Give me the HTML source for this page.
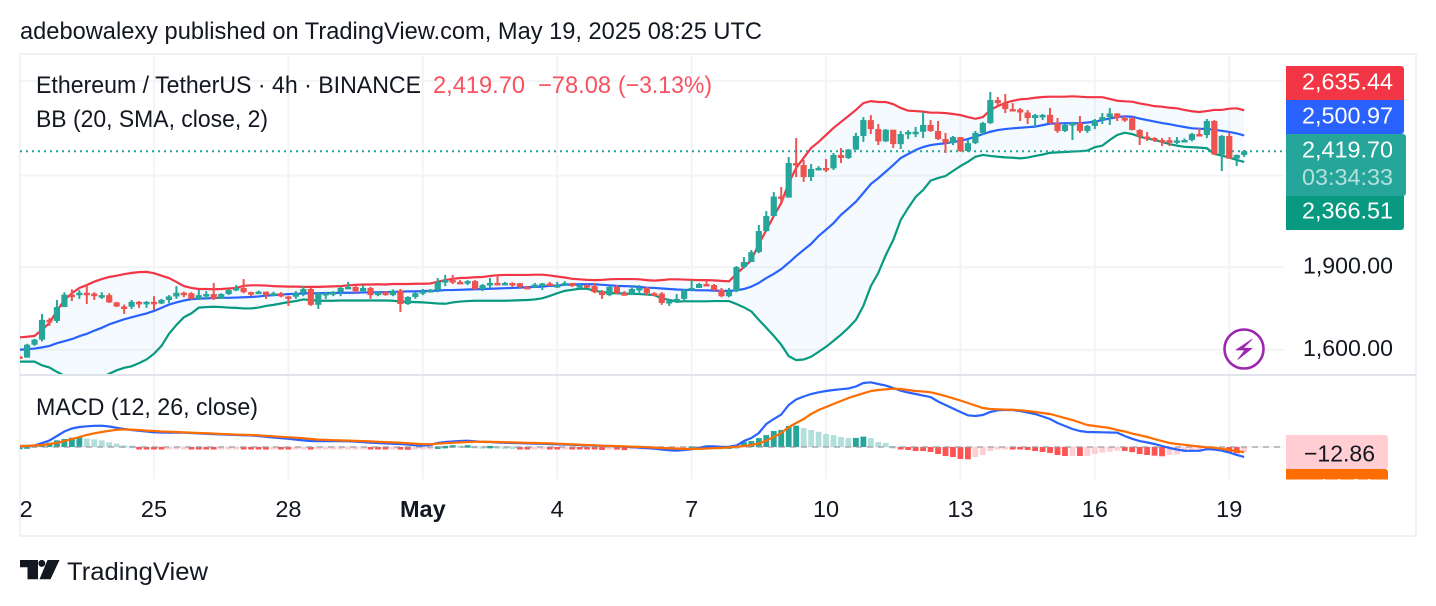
<!DOCTYPE html>
<html lang="en">
<head>
<meta charset="utf-8">
<title>ETH/USDT 4h chart</title>
<style>
html,body{margin:0;padding:0;background:#fff;width:1436px;height:606px;overflow:hidden}
svg{display:block}
text{font-family:"Liberation Sans",sans-serif;fill:#131722}
</style>
</head>
<body>
<svg id="chart" xmlns="http://www.w3.org/2000/svg" width="1436" height="606" viewBox="0 0 1436 606">
  <defs>
    <clipPath id="main-clip"><rect x="20" y="54" width="1264" height="320.5"/></clipPath>
    <clipPath id="macd-clip"><rect x="20" y="375.5" width="1264" height="104"/></clipPath>
    <clipPath id="time-clip"><rect x="20" y="480" width="1264" height="55"/></clipPath>
    <clipPath id="macd-label-clip"><rect x="1284" y="376" width="130" height="103.5"/></clipPath>
  </defs>
  <rect width="1436" height="606" fill="#fff"/>
  <text x="20" y="39" font-size="24" textLength="742" lengthAdjust="spacingAndGlyphs">adebowalexy published on TradingView.com, May 19, 2025 08:25 UTC</text>
  <rect x="20" y="54" width="1396" height="482" fill="none" stroke="#f1f2f5" stroke-width="2"/>

  <g id="grid"></g>
  <g clip-path="url(#main-clip)">
    <path id="bb-fill" fill="#2196f3" fill-opacity="0.05"/>
    <path id="bb-upper" fill="none" stroke="#f23645" stroke-width="2.2"/>
    <path id="bb-middle" fill="none" stroke="#2962ff" stroke-width="2.2"/>
    <path id="bb-lower" fill="none" stroke="#089981" stroke-width="2.2"/>
    <line id="last-price-line" x1="20" x2="1284" stroke="#26a69a" stroke-width="2" stroke-dasharray="2 4"/>
    <g id="candles"></g>
  </g>
  <line x1="20" x2="1416" y1="375" y2="375" stroke="#e0e3eb" stroke-width="2"/>
  <g clip-path="url(#macd-clip)">
    <g id="hist"></g>
    <line id="macd-zero" x1="20" x2="1284" stroke="#9598a1" stroke-opacity="0.75" stroke-width="1.5" stroke-dasharray="6 5"/>
    <path id="macd-line" fill="none" stroke="#2962ff" stroke-width="2.2"/>
    <path id="signal-line" fill="none" stroke="#ff6d00" stroke-width="2.2"/>
  </g>

  <text x="36" y="93" font-size="24" textLength="385" lengthAdjust="spacingAndGlyphs">Ethereum / TetherUS · 4h · BINANCE</text>
  <text x="433" y="93" font-size="24" style="fill:#f7525f" textLength="92" lengthAdjust="spacingAndGlyphs">2,419.70</text>
  <text x="538" y="93" font-size="24" style="fill:#f7525f" textLength="73" lengthAdjust="spacingAndGlyphs">−78.08</text>
  <text x="618" y="93" font-size="24" style="fill:#f7525f" textLength="94" lengthAdjust="spacingAndGlyphs">(−3.13%)</text>
  <text x="36" y="127" font-size="24" textLength="232" lengthAdjust="spacingAndGlyphs">BB (20, SMA, close, 2)</text>
  <text x="36" y="415" font-size="24" textLength="222" lengthAdjust="spacingAndGlyphs">MACD (12, 26, close)</text>

  <g id="y-labels"></g>

  <g>
    <circle cx="1244" cy="349" r="19.5" fill="#fff" stroke="#9c27b0" stroke-width="2.6"/>
    <path d="M1252 339.3L1236 350H1245L1238 359.3L1252 348.3H1243Z" fill="#9c27b0" stroke="#9c27b0" stroke-width="0.8" stroke-linejoin="round"/>
  </g>

  <path d="M1286 66H1401a3 3 0 0 1 3 3V100H1286Z" fill="#f23645"/>
  <text x="1302" y="89.5" font-size="23.5" style="fill:#fff" textLength="91" lengthAdjust="spacingAndGlyphs">2,635.44</text>
  <path d="M1286 100H1404V131a3 3 0 0 1 -3 3H1286Z" fill="#2962ff"/>
  <text x="1302" y="123.5" font-size="23.5" style="fill:#fff" textLength="91" lengthAdjust="spacingAndGlyphs">2,500.97</text>
  <path d="M1286 196H1404V227a3 3 0 0 1 -3 3H1286Z" fill="#089981"/>
  <text x="1302" y="218.5" font-size="23.5" style="fill:#fff" textLength="91" lengthAdjust="spacingAndGlyphs">2,366.51</text>
  <path d="M1286 134H1403a3 3 0 0 1 3 3V193a3 3 0 0 1 -3 3H1286Z" fill="#26a69a"/>
  <text x="1302" y="157.5" font-size="23.5" style="fill:#fff" textLength="91" lengthAdjust="spacingAndGlyphs">2,419.70</text>
  <text x="1302" y="185" font-size="23.5" style="fill:#fff;fill-opacity:.65" textLength="91" lengthAdjust="spacingAndGlyphs">03:34:33</text>

  <g clip-path="url(#macd-label-clip)">
    <path d="M1286 469H1385a3 3 0 0 1 3 3V503H1286Z" fill="#ff6d00"/>
    <text x="1304" y="495" font-size="23.5" style="fill:#fff" textLength="71" lengthAdjust="spacingAndGlyphs">−14.01</text>
    <path d="M1286 435H1385a3 3 0 0 1 3 3V466a3 3 0 0 1 -3 3H1286Z" fill="#ffcdd2"/>
    <text x="1304" y="461.5" font-size="23.5" textLength="71" lengthAdjust="spacingAndGlyphs">−12.86</text>
  </g>

  <g id="time-labels" clip-path="url(#time-clip)"></g>

  <g>
    <path d="M20 560H38V579.3H27.5V567.2H20Z" fill="#131722"/>
    <circle cx="41.8" cy="563.4" r="3.5" fill="#131722"/>
    <path d="M47.5 560H59.5L50.5 579.3H39.5Z" fill="#131722"/>
    <text x="67" y="580" font-size="25" textLength="141" lengthAdjust="spacingAndGlyphs">TradingView</text>
  </g>
</svg>
<script>
const categories = ["22","25","28","May","4","7","10","13","16","19"];
const categoryIndex = [0,18,36,54,72,90,108,126,144,162];
const gridPrices = [1600,1900,2300,2800];
const priceTickValues = [1600,1900];
const priceTickLabels = ["1,600.00","1,900.00"];
const firstOpen = 1578;
const closes = [
1574,1617,1634,1703,1699,1749,1795,1793,1802,1799,
1789,1793,1766,1751,1750,1768,1764,1768,1762,1775,
1788,1802,1800,1779,1793,1797,1779,1797,1812,1820,
1804,1802,1806,1793,1800,1788,1787,1802,1816,1757,
1800,1801,1804,1820,1824,1808,1820,1793,1804,1793,
1810,1760,1786,1800,1808,1812,1843,1850,1843,1842,
1846,1816,1831,1839,1838,1839,1838,1824,1823,1833,
1837,1829,1831,1839,1827,1831,1827,1804,1793,1824,
1800,1797,1816,1820,1800,1799,1764,1771,1779,1812,
1820,1835,1831,1812,1789,1808,1901,1921,1961,2049,
2114,2202,2197,2361,2351,2293,2332,2337,2335,2401,
2386,2428,2498,2582,2534,2470,2531,2456,2508,2519,
2520,2556,2524,2482,2461,2492,2421,2461,2514,2566,
2692,2675,2642,2640,2623,2593,2609,2610,2566,2524,
2556,2566,2524,2551,2582,2598,2618,2593,2592,2529,
2495,2487,2477,2476,2472,2475,2477,2508,2503,2577,
2403,2498,2383,2401,2419.7];
const highs = [
1580,1620,1637,1724,1710,1775,1804,1815,1812,1831,
1804,1804,1800,1768,1758,1775,1771,1771,1789,1779,
1793,1827,1806,1804,1812,1808,1839,1800,1814,1831,
1854,1806,1810,1806,1806,1804,1791,1808,1827,1820,
1804,1804,1808,1824,1843,1827,1831,1824,1808,1808,
1814,1816,1789,1804,1816,1816,1858,1870,1870,1850,
1850,1850,1835,1858,1870,1843,1841,1839,1827,1839,
1839,1843,1843,1846,1839,1835,1833,1839,1812,1827,
1831,1808,1831,1831,1824,1804,1804,1775,1797,1816,
1850,1839,1850,1835,1820,1820,1905,1941,1970,2075,
2136,2223,2246,2391,2487,2376,2356,2346,2381,2411,
2436,2431,2514,2598,2609,2561,2534,2529,2524,2529,
2545,2626,2582,2577,2514,2498,2492,2477,2524,2572,
2738,2709,2726,2675,2648,2637,2615,2615,2648,2593,
2561,2572,2604,2556,2588,2620,2648,2620,2604,2598,
2534,2519,2492,2487,2492,2492,2485,2514,2540,2588,
2582,2503,2514,2403,2426];
const lows = [
1572,1574,1613,1628,1682,1692,1749,1771,1779,1760,
1775,1779,1764,1749,1724,1742,1746,1746,1738,1760,
1764,1779,1785,1777,1775,1779,1775,1779,1793,1808,
1800,1789,1800,1779,1789,1785,1753,1779,1789,1753,
1742,1779,1789,1789,1816,1800,1804,1779,1789,1791,
1789,1731,1757,1779,1793,1804,1804,1827,1835,1835,
1831,1812,1808,1820,1831,1835,1824,1820,1820,1820,
1812,1827,1820,1829,1824,1824,1820,1800,1779,1789,
1797,1793,1793,1797,1793,1789,1757,1753,1764,1768,
1812,1820,1827,1808,1785,1785,1804,1895,1921,1957,
2045,2110,2176,2197,2293,2270,2274,2327,2317,2327,
2361,2381,2426,2467,2508,2451,2467,2436,2431,2482,
2492,2487,2519,2477,2411,2451,2416,2416,2456,2503,
2561,2658,2620,2631,2577,2561,2545,2582,2561,2514,
2519,2477,2514,2514,2534,2561,2556,2577,2572,2527,
2451,2472,2467,2446,2446,2456,2467,2470,2498,2487,
2401,2322,2381,2346,2391];
const bbUpper = [
1642,1644,1647,1668,1692,1735,1775,1800,1820,1831,
1844,1854,1862,1867,1873,1878,1881,1882,1877,1867,
1858,1843,1827,1820,1816,1816,1815,1816,1818,1820,
1828,1830,1830,1829,1827,1826,1825,1825,1824,1824,
1824,1825,1826,1827,1830,1832,1833,1833,1834,1833,
1835,1835,1835,1836,1836,1837,1844,1850,1855,1858,
1859,1861,1862,1866,1869,1870,1870,1870,1870,1871,
1871,1868,1864,1860,1855,1853,1851,1850,1851,1853,
1854,1854,1854,1853,1850,1848,1850,1853,1853,1852,
1851,1850,1850,1849,1847,1845,1874,1901,1929,1994,
2053,2114,2172,2265,2337,2386,2436,2467,2503,2540,
2572,2604,2637,2675,2686,2681,2681,2669,2648,2633,
2631,2628,2622,2622,2620,2615,2609,2598,2589,2598,
2637,2658,2677,2688,2696,2699,2705,2709,2711,2711,
2711,2713,2711,2708,2708,2708,2698,2688,2685,2683,
2673,2666,2658,2655,2649,2646,2637,2630,2626,2631,
2637,2637,2644,2646,2635.44];
const bbMiddle = [
1600,1602,1604,1608,1613,1622,1629,1636,1646,1654,
1665,1675,1687,1696,1705,1712,1719,1726,1735,1746,
1758,1766,1773,1778,1780,1781,1782,1783,1783,1784,
1785,1786,1788,1791,1793,1795,1797,1798,1799,1800,
1800,1801,1801,1802,1802,1802,1803,1803,1804,1804,
1805,1806,1807,1807,1808,1809,1810,1812,1812,1813,
1814,1815,1816,1817,1818,1819,1820,1821,1823,1824,
1825,1828,1829,1832,1833,1834,1834,1834,1832,1830,
1828,1827,1826,1824,1821,1820,1818,1816,1814,1813,
1812,1811,1811,1810,1809,1809,1811,1816,1825,1839,
1858,1874,1893,1918,1945,1970,1995,2028,2055,2083,
2119,2148,2178,2218,2260,2288,2319,2351,2386,2406,
2426,2441,2451,2456,2460,2467,2473,2482,2494,2508,
2520,2529,2534,2538,2541,2544,2547,2555,2563,2564,
2565,2565,2565,2569,2573,2582,2591,2598,2602,2600,
2590,2582,2574,2566,2560,2552,2545,2538,2536,2534,
2530,2525,2519,2511,2500.97];
const bbLower = [
1561,1561,1561,1549,1542,1528,1516,1507,1501,1498,
1501,1510,1522,1533,1541,1546,1556,1568,1587,1613,
1654,1685,1712,1726,1747,1749,1750,1749,1747,1746,
1744,1744,1747,1753,1757,1762,1767,1771,1777,1775,
1772,1772,1772,1773,1773,1773,1773,1773,1773,1773,
1772,1769,1768,1767,1766,1764,1762,1761,1766,1769,
1771,1772,1772,1772,1772,1772,1773,1774,1775,1777,
1781,1790,1800,1809,1813,1817,1817,1809,1805,1801,
1800,1799,1798,1797,1795,1793,1781,1775,1769,1770,
1770,1770,1770,1771,1771,1771,1760,1748,1733,1703,
1675,1647,1617,1579,1566,1568,1577,1593,1610,1630,
1651,1675,1703,1753,1827,1878,1949,2011,2097,2150,
2200,2232,2276,2288,2298,2322,2346,2367,2392,2401,
2396,2392,2389,2387,2384,2388,2396,2403,2412,2414,
2416,2418,2420,2423,2440,2448,2477,2503,2515,2508,
2494,2485,2477,2467,2456,2448,2442,2440,2438,2435,
2406,2398,2388,2376,2366.51];
const macdValues = [
2.7,2.7,4.0,10.8,17.5,29.6,41.7,49.8,53.8,55.7,
57.0,57.3,55.1,51.6,48.4,45.7,43.6,41.7,39.5,39.0,
38.7,38.5,38.5,37.7,36.6,35.5,34.4,33.9,33.1,32.3,
31.7,31.2,29.6,27.4,25.6,23.7,22.1,19.9,17.8,16.1,
15.9,15.9,15.6,15.6,15.3,14.3,12.9,11.8,10.8,9.7,
8.6,8.1,6.5,4.8,3.8,5.4,10.8,13.5,14.8,16.1,
16.9,15.3,13.7,13.5,12.1,11.3,10.8,10.2,9.7,9.1,
8.6,8.1,7.3,6.7,5.9,5.4,4.6,4.0,3.2,2.7,
1.9,0.8,-0.3,-1.6,-3.0,-4.6,-6.7,-8.9,-9.7,-8.1,
-6.2,-2.2,1.9,1.6,0.5,0.8,4.0,16.1,24.2,37.7,
61.9,75.3,87.4,113,127.8,135.8,142.6,147.1,150.6,153.3,
155.5,157.4,162.7,172.2,174,169.5,165.4,158.7,151.4,146.6,
142.6,138.5,134.5,122.4,113,103.6,94.2,85.3,83.4,86.1,
94.2,98.7,99.8,99.5,96.8,92.8,88.8,82,75.3,64.6,
56.5,48.4,43,40.4,40.1,39.5,39,38.5,29.6,22.1,
16.1,12.1,8.1,2.7,-2.7,-6.7,-10,-10.2,-10,-5.9,
-6.7,-10,-14.8,-21.5,-26.87];
const signalValues = [
2.7,2.7,4,5.1,8.1,11,16.1,21.5,26.9,32.3,
36.9,40.4,43.6,46.3,47.3,46.8,45.7,44.1,43,41.7,
41.2,40.4,39.3,38.5,37.7,36.9,36,35.2,34.4,33.4,
32.8,32.3,31.2,29.9,28.8,27.4,26.1,25,23.7,21.5,
19.9,19.1,18.3,17.8,17.2,16.4,15.9,15.1,14,13.2,
12.4,11.6,10.2,8.9,7.5,7.5,8.9,10.5,11.3,12.4,
13.5,14,14.3,13.7,13.5,12.9,12.4,11.8,11.3,10.8,
10.2,9.7,8.9,8.1,7,6.2,5.4,4.6,3.5,3,
2.4,1.6,0.8,0.3,-0.5,-1.6,-2.7,-3.5,-4.3,-5.1,
-5.4,-4.8,-4,-3.2,-2.4,-1.1,0.8,2.7,5.4,9.4,
17.5,26.9,37.7,53.8,64.6,75.3,88.8,99.5,107.6,115.7,
123.7,131.8,138.5,144.5,150.6,153.3,155.2,156.8,156,153.3,
150.6,149.3,147.1,142.6,137.2,131,125.1,118.4,111.6,104.9,
102.2,101.4,100.6,100.3,98.7,96.8,94.2,91.5,88.8,83.4,
78,72.6,65.9,59.2,56.5,53.8,51.1,45.7,41.7,36.3,
31.7,26.9,21.5,16.1,10.8,8.1,5.9,3.5,1.3,-0.8,
-1.9,-4.8,-8.1,-10.8,-14.01];
const histValues = [
0.5,1.8,5.4,9,11.7,17.9,21.5,25,27,23,
20.6,18,12.6,9,4.5,3.6,-1.5,-2.5,-3,-3.5,
-3,-2.5,-2,-3,-4,-4.5,-5,-4.5,-4,-3.5,
-4,-4.5,-5,-7,-5.5,-6,-6.5,-5.5,-5,-6.5,
-5.5,-4.5,-3.5,-3,-2.5,-2,-1.5,-3,-5,-6,
-5,-7,-7.5,-6,-4,-3,1.5,3,5,4,
5,3,2,3,2,1.5,1,-1.5,-2.5,-2,
-1.5,-2.5,-3,-2.5,-3,-3.5,-6,-6.5,-8,-6,
-7,-8.5,-6,-5,-4,-3,-4,-5,-4,-3,
1.5,1,3.6,3.8,1,1.5,1.2,14.4,16,24,
32,43,46,56.5,57.4,51,45.7,41,35,32,
27,24,24.5,28,24,13.5,11,2.7,-5.4,-8,
-10.8,-10.9,-13.5,-18.8,-24.2,-26.9,-32.3,-33,-27,-21.5,
-10.8,-2.7,-2.5,-2.8,-5.4,-8,-10.8,-13.5,-16,-21.5,
-24.2,-24,-24.3,-24,-18.8,-15,-12.6,-9.9,-10.5,-14,
-18.8,-21.5,-23.3,-25,-21.5,-19.7,-14.3,-13.5,-8,-6.3,
-6,-4.5,-15,-17,-12.86];

const NS = 'http://www.w3.org/2000/svg';
function xAxis(i) { return 19.6 + 7.467 * i; }
function yAxis(p) { return 267.3 - 480 * Math.log(p / 1900); }
function macdAxis(v) { return 447 - 0.3717 * v; }
function mk(tag, parent, attrs) {
  const el = document.createElementNS(NS, tag);
  for (const k in attrs) el.setAttribute(k, attrs[k]);
  parent.appendChild(el);
  return el;
}
function linePath(values, axis) {
  return values.map((v, i) => (i ? 'L' : 'M') + xAxis(i).toFixed(2) + ' ' + axis(v).toFixed(2)).join('');
}

const gridGroup = document.getElementById('grid');
gridPrices.forEach(function (p) {
  const gy = yAxis(p);
  const g = mk('line', gridGroup, {x1: 20, x2: 1284, y1: gy, y2: gy, stroke: '#f3f4f6', 'stroke-width': 2});
  
  
});
const macdGrid = mk('line', gridGroup, {x1: 20, x2: 1284, y1: macdAxis(0), y2: macdAxis(0), stroke: '#f3f4f6', 'stroke-width': 2});


categoryIndex.forEach(function (idx) {
  const gx = xAxis(idx);
  const g = mk('line', gridGroup, {x1: gx, x2: gx, y1: 54, y2: 479.5, stroke: '#f3f4f6', 'stroke-width': 2});
  
  
});

const upperPath = linePath(bbUpper, yAxis);
document.getElementById('bb-upper').setAttribute('d', upperPath);
document.getElementById('bb-middle').setAttribute('d', linePath(bbMiddle, yAxis));
document.getElementById('bb-lower').setAttribute('d', linePath(bbLower, yAxis));
let fillPath = upperPath;
for (let i = bbLower.length - 1; i >= 0; i--) {
  fillPath += 'L' + xAxis(i).toFixed(2) + ' ' + yAxis(bbLower[i]).toFixed(2);
}
document.getElementById('bb-fill').setAttribute('d', fillPath + 'Z');

const lastY = yAxis(closes[closes.length - 1]);
const lastLine = document.getElementById('last-price-line');
lastLine.setAttribute('y1', lastY);
lastLine.setAttribute('y2', lastY);

const candleGroup = document.getElementById('candles');
closes.forEach(function (c, i) {
  const o = i === 0 ? firstOpen : closes[i - 1];
  const color = c >= o ? '#26a69a' : '#ef5350';
  const cx = xAxis(i);
  const top = Math.min(yAxis(o), yAxis(c));
  const h = Math.max(Math.abs(yAxis(o) - yAxis(c)), 2.5);
  const wick = mk('line', candleGroup, {x1: cx, x2: cx, y1: yAxis(highs[i]), y2: yAxis(lows[i]), stroke: color, 'stroke-width': 2});
  
  
  const body = mk('rect', candleGroup, {x: cx - 3.1, y: top, width: 6.2, height: h, fill: color});
  
  
});

const histGroup = document.getElementById('hist');
histValues.forEach(function (v, i) {
  const prev = i === 0 ? 0 : histValues[i - 1];
  const color = v >= 0 ? (v >= prev ? '#26a69a' : '#b2dfdb') : (v < prev ? '#ff5252' : '#ffcdd2');
  const y0 = macdAxis(0);
  const y1 = macdAxis(v);
  const bar = mk('rect', histGroup, {x: xAxis(i) - 2.9, y: Math.min(y0, y1), width: 5.8, height: Math.max(Math.abs(y1 - y0), 2.5), fill: color});
  
  
});
const zeroLine = document.getElementById('macd-zero');
zeroLine.setAttribute('y1', macdAxis(0));
zeroLine.setAttribute('y2', macdAxis(0));
document.getElementById('macd-line').setAttribute('d', linePath(macdValues, macdAxis));
document.getElementById('signal-line').setAttribute('d', linePath(signalValues, macdAxis));

const yLabels = document.getElementById('y-labels');
priceTickValues.forEach(function (p, i) {
  const t = mk('text', yLabels, {x: 1303, y: yAxis(p) + 6, 'font-size': 23.5, textLength: 90, lengthAdjust: 'spacingAndGlyphs'});
  t.textContent = priceTickLabels[i];
  
  
});

const timeLabels = document.getElementById('time-labels');
categories.forEach(function (label, i) {
  const t = mk('text', timeLabels, {x: xAxis(categoryIndex[i]), y: 517, 'font-size': 23.5, 'text-anchor': 'middle'});
  if (label === 'May') t.setAttribute('font-weight', 'bold');
  t.textContent = label;
  
  
});
</script>
</body>
</html>
